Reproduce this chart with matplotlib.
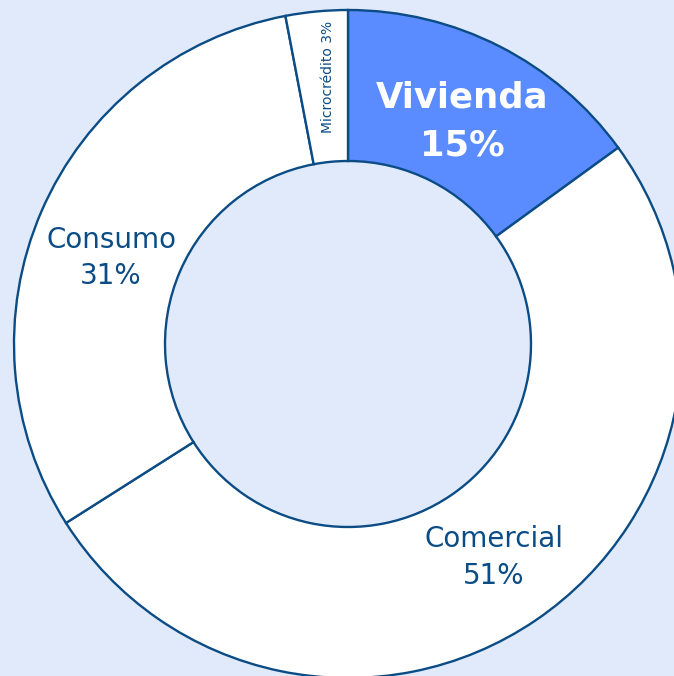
import matplotlib.pyplot as plt

categories = ['Vivienda', 'Comercial', 'Consumo', 'Microcrédito']
shares = [15, 51, 31, 3]
fills = ['#5B8CFF', 'white', 'white', 'white']

bg = '#E1EAFA'
edge = '#0B4C85'

fig = plt.figure(figsize=(6.74, 6.76), dpi=100)
fig.patch.set_facecolor(bg)
ax = fig.add_axes([0, 0, 1, 1])
ax.set_facecolor(bg)

# pie in pixel-like units, centre at (348, 344) from top-left
wedges, _ = ax.pie(shares, colors=fills, startangle=90, counterclock=False,
                   radius=334, wedgeprops=dict(width=151, edgecolor=edge, linewidth=1.7))
ax.set_xlim(-348, 674 - 348)
ax.set_ylim(-(676 - 344), 344)
ax.axis('off')

ax.text(114, 246, 'Vivienda', color='white', fontsize=25.5, fontweight='bold',
        ha='center', va='center')
ax.text(114, 198, '15%', color='white', fontsize=25.5, fontweight='bold',
        ha='center', va='center')
ax.text(146, -195, 'Comercial', color=edge, fontsize=20, ha='center', va='center')
ax.text(146, -232, '51%', color=edge, fontsize=20, ha='center', va='center')
ax.text(-237, 104, 'Consumo', color=edge, fontsize=20, ha='center', va='center')
ax.text(-237, 68, '31%', color=edge, fontsize=20, ha='center', va='center')
ax.text(-20, 267, 'Microcrédito 3%', color=edge, fontsize=10, rotation=90,
        ha='center', va='center')

fig.savefig('out.png', dpi=100, facecolor=bg)
